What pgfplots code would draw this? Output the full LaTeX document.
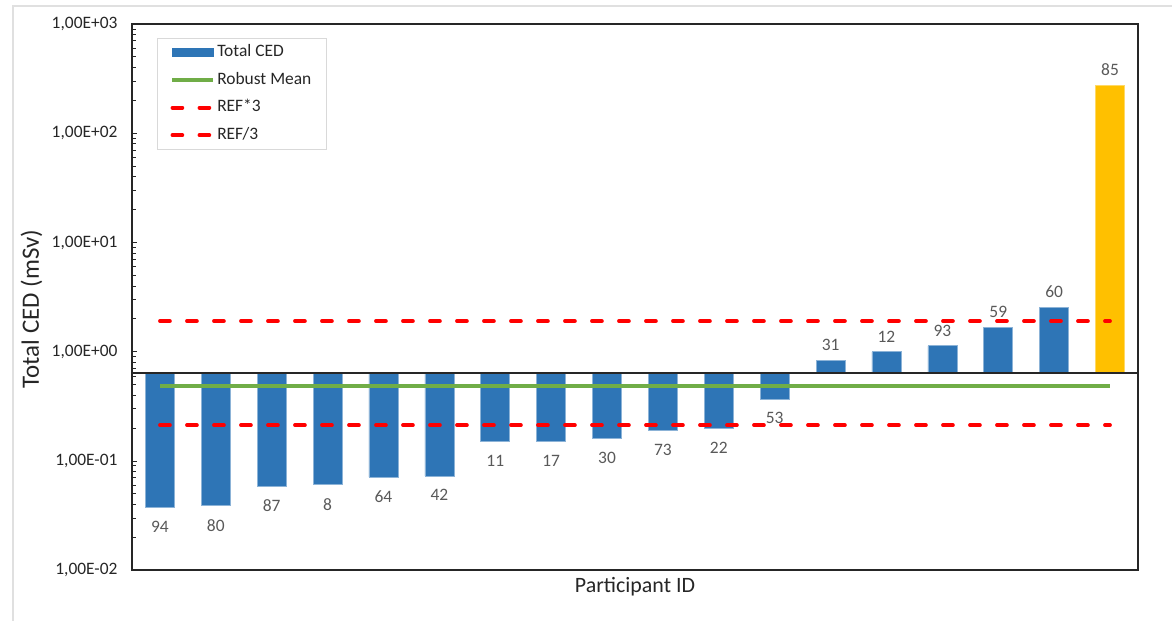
\documentclass[border=0pt]{standalone}
\usepackage{pgfplots}
\pgfplotsset{compat=1.18}
\usepackage{pgfplotstable}
\usepackage{fontspec}
\setmainfont{Carlito}
\definecolor{barblue}{HTML}{2E75B6}
\definecolor{baryel}{HTML}{FFC000}
\definecolor{mgreen}{HTML}{70AD47}
\definecolor{mred}{HTML}{FF0000}
\definecolor{lblgray}{HTML}{595959}
\definecolor{txt}{HTML}{262626}

\pgfplotstableread{
x v id
0 0.0379 94
1 0.0390 80
2 0.0586 87
3 0.0607 8
4 0.0713 64
5 0.0733 42
6 0.152 11
7 0.152 17
8 0.160 30
9 0.192 73
10 0.200 22
11 0.371 53
}\negbars
\pgfplotstableread{
x v id
12 0.833 31
13 1.00 12
14 1.135 93
15 1.673 59
16 2.56 60
}\posbars
\pgfplotstableread{
x v id
17 277 85
}\yelbars

\begin{document}
\begin{tikzpicture}
\path[use as bounding box] (-132bp,-51bp) rectangle (1040bp,570bp);
\draw[black!12, line width=1.5bp] (-119bp,-51bp) -- (-119bp,564bp) -- (1040bp,564bp);
\begin{axis}[
  at={(0,0)}, anchor=south west,
  scale only axis, width=1006bp, height=546bp,
  xmin=-0.5, xmax=17.5,
  y coord trafo/.code={\pgfmathparse{ln(#1)-ln(0.64)}},
  ymin=0.01, ymax=1000,
  ytick={0.01,0.1,1,10,100,1000},
  yticklabels={{1,00E-02},{1,00E-01},{1,00E+00},{1,00E+01},{1,00E+02},{1,00E+03}},
  minor ytick={0.02,0.03,0.04,0.05,0.06,0.07,0.08,0.09,0.2,0.3,0.4,0.5,0.6,0.7,0.8,0.9,2,3,4,5,6,7,8,9,20,30,40,50,60,70,80,90,200,300,400,500,600,700,800,900},
  xtick=\empty,
  ytick pos=left,
  tick align=inside,
  major tick length=5bp, minor tick length=4bp,
  tick style={black!85, line width=0.9bp},
  axis line style={black!85, line width=1.1bp},
  yticklabel style={font=\fontsize{17.5}{20}\selectfont, text=txt, xshift=-11bp},
  ylabel={Total CED (mSv)},
  xlabel={Participant ID},
  ylabel style={at={(axis description cs:-0.0999,0.478)}, anchor=center, font=\fontsize{25}{28}\selectfont, text=txt},
  xlabel style={at={(axis description cs:0.5,0)}, anchor=center, yshift=-17bp, font=\fontsize{22}{25}\selectfont, text=txt},
  legend style={at={(axis description cs:0.0249,0.9744)}, anchor=north west,
    draw=black!15, line width=1bp, font=\fontsize{17.5}{20}\selectfont, text=txt,
    inner xsep=13bp, inner ysep=4.5bp, row sep=8bp, fill=white,
    nodes={inner sep=2bp, text height=12bp, text depth=3.5bp}},
  legend cell align=left,
  legend image code/.code={\draw[#1] (0bp,0bp) -- (41bp,0bp);},
]
\addplot[ybar, bar shift=0pt, bar width=29bp, fill=barblue, draw=barblue!55!white, line width=0.6bp,
  point meta=explicit symbolic, nodes near coords,
  every node near coord/.append style={anchor=north, yshift=-10bp, font=\fontsize{17.5}{20}\selectfont, text=lblgray},
  legend image code/.code={\fill[barblue] (0bp,-4bp) rectangle (41bp,4bp);}]
  table[x=x, y=v, meta=id] {\negbars};
\addlegendentry{Total CED}
\addplot[ybar, bar shift=0pt, bar width=29bp, fill=barblue, draw=barblue!55!white, line width=0.6bp,
  point meta=explicit symbolic, nodes near coords,
  every node near coord/.append style={anchor=south, yshift=6bp, font=\fontsize{17.5}{20}\selectfont, text=lblgray},
  forget plot]
  table[x=x, y=v, meta=id] {\posbars};
\addplot[ybar, bar shift=0pt, bar width=29bp, fill=baryel, draw=baryel!60!white, line width=0.6bp,
  point meta=explicit symbolic, nodes near coords,
  every node near coord/.append style={anchor=south, yshift=6bp, font=\fontsize{17.5}{20}\selectfont, text=lblgray},
  forget plot]
  table[x=x, y=v, meta=id] {\yelbars};
\addplot[black!85, line width=1.5bp, forget plot] coordinates {(-0.5,0.64) (17.5,0.64)};
\addplot[mgreen, line width=3.7bp] coordinates {(0,0.489) (17,0.489)};
\addlegendentry{Robust Mean}
\addplot[mred, line width=3.7bp, line cap=round, dash pattern=on 10bp off 17bp] coordinates {(0,1.91) (17,1.91)};
\addlegendentry{REF*3}
\addplot[mred, line width=3.7bp, line cap=round, dash pattern=on 10bp off 17bp] coordinates {(0,0.213) (17,0.213)};
\addlegendentry{REF/3}
\end{axis}
\end{tikzpicture}
\end{document}
